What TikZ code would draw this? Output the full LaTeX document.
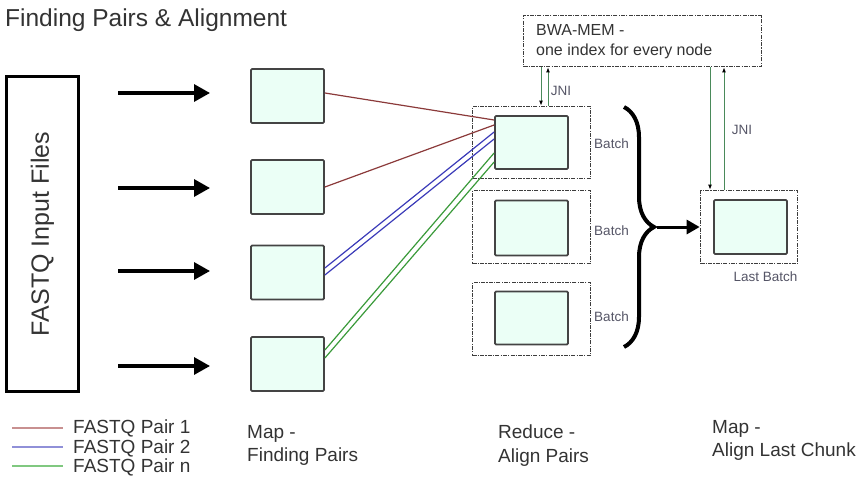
\documentclass[tikz,border=0pt]{standalone}
\usepackage{fontspec}
\setmainfont{Liberation Sans}
\usetikzlibrary{arrows.meta,decorations.pathreplacing,calc}
\definecolor{txt}{HTML}{333333}
\definecolor{boxc}{HTML}{444444}
\definecolor{mint}{HTML}{EBFFF6}
\definecolor{smalltxt}{HTML}{555566}
\definecolor{jnic}{HTML}{4A8A5A}
\definecolor{pone}{HTML}{8B3A3A}
\definecolor{ptwo}{HTML}{3A3AB8}
\definecolor{pn}{HTML}{3A9A3A}
\definecolor{lone}{HTML}{C89090}
\definecolor{ltwo}{HTML}{9090D8}
\definecolor{ln}{HTML}{80C880}
\begin{document}
\begin{tikzpicture}[x=1pt,y=-1pt,
  mapbox/.style={draw=boxc, fill=mint, line width=1.8pt, rounded corners=1.2pt, minimum width=73pt, minimum height=54pt, inner sep=0pt},
  outerbox/.style={draw=boxc!90!black, line width=1.7pt, dash pattern=on 4pt off 1.2pt on 1.2pt off 1.2pt, inner sep=0pt},
  bigarrow/.style={line width=3.2pt, -{Triangle[length=16pt,width=17pt]}},
  midarrow/.style={line width=3pt, -{Triangle[length=13pt,width=14pt]}},
  jni/.style={draw=jnic, line width=1pt, -{Latex[black,length=5pt,width=4pt]}},
  pair/.style={line width=1.2pt},
  small/.style={font=\fontsize{13.5}{16}\selectfont, text=smalltxt, inner sep=0pt},
  label/.style={font=\fontsize{19}{23.5}\selectfont, text=txt, align=left, inner sep=0pt, anchor=north west},
  legline/.style={line width=2pt}
]
\useasboundingbox (0,0) rectangle (868,482);

% title
\node[anchor=north west, inner sep=0pt, text=txt, font=\fontsize{24.5}{28}\selectfont] (title) at (5,9) {Finding Pairs \& Alignment};

% FASTQ input
\node[draw=black, line width=3pt, minimum width=72pt, minimum height=315pt, inner sep=0pt] (fastq) at (42.5,234)
  {\rotatebox{90}{\fontsize{25}{28}\selectfont\color{txt}FASTQ Input Files}};

% map boxes
\node[mapbox] (m1) at (287.5,96) {};
\node[mapbox] (m2) at (287.5,187) {};
\node[mapbox] (m3) at (287.5,272.5) {};
\node[mapbox] (m4) at (287.5,364) {};

% input arrows
\coordinate (a1s) at (118,93);  \coordinate (a1e) at (210,93);
\coordinate (a2s) at (118,188); \coordinate (a2e) at (210,188);
\coordinate (a3s) at (118,271); \coordinate (a3e) at (210,271);
\coordinate (a4s) at (118,366); \coordinate (a4e) at (210,366);
\draw[bigarrow] (a1s) -- (a1e);
\draw[bigarrow] (a2s) -- (a2e);
\draw[bigarrow] (a3s) -- (a3e);
\draw[bigarrow] (a4s) -- (a4e);

% reduce boxes
\node[outerbox, minimum width=118pt, minimum height=72pt] (r1o) at (531.5,142.5) {};
\node[mapbox, minimum height=53pt] (r1i) at (531.5,142.5) {};
\node[outerbox, minimum width=118pt, minimum height=73pt] (r2o) at (531.5,227) {};
\node[mapbox, minimum height=55pt] (r2i) at (531.5,228) {};
\node[outerbox, minimum width=118pt, minimum height=73pt] (r3o) at (531.5,319) {};
\node[mapbox, minimum height=53pt] (r3i) at (531.5,318) {};

\node[small] (b1) at (611.5,144) {Batch};
\node[small] (b2) at (611.5,231) {Batch};
\node[small] (b3) at (611.5,317) {Batch};

% pair connectors
\draw[pair, pone] ([yshift=3pt]m1.east) -- ([yshift=22.5pt]r1i.west);
\draw[pair, pone] (m2.east) -- ([yshift=17.5pt]r1i.west);
\draw[pair, ptwo] ([yshift=4.5pt]m3.east) -- ([yshift=10.5pt]r1i.west);
\draw[pair, ptwo] ([yshift=-2.5pt]m3.east) -- ([yshift=3.5pt]r1i.west);
\draw[pair, pn] ([yshift=14pt]m4.east) -- ([yshift=-10.5pt]r1i.west);
\draw[pair, pn] ([yshift=6pt]m4.east) -- ([yshift=-19.5pt]r1i.west);

% brace
\coordinate (brt) at (624,107);
\coordinate (brb) at (624,347);
\draw[line width=4pt, decorate, decoration={brace, amplitude=30pt}] (brt) -- (brb);
\coordinate (brtip) at (657,227);

% last batch
\node[outerbox, minimum width=97pt, minimum height=73pt] (lo) at (749,227) {};
\node[mapbox] (li) at (750.5,227) {};
\node[small] (lb) at (765.5,277) {Last Batch};
\draw[midarrow] (brtip) -- (lo.west);

% BWA-MEM
\node[outerbox, minimum width=238pt, minimum height=51pt] (bwa) at (642.5,41) {};
\node[anchor=west, inner sep=0pt, text=txt, font=\fontsize{16}{20}\selectfont, align=left] (bwat) at (536,42) {BWA-MEM -\\one index for every node};

% JNI arrows
\draw[jni] ([xshift=-101.5pt]bwa.south) -- ([xshift=-101.5pt]bwa.south |- r1o.north);
\draw[jni] ([xshift=-94.5pt]bwa.south |- r1o.north) -- ([xshift=-94.5pt]bwa.south);
\node[small] (j1) at (561,91) {JNI};
\draw[jni] ([xshift=67.5pt]bwa.south) -- ([xshift=67.5pt]bwa.south |- lo.north);
\draw[jni] ([xshift=81.5pt]bwa.south |- lo.north) -- ([xshift=81.5pt]bwa.south);
\node[small] (j2) at (742,130) {JNI};

% legend
\coordinate (l1s) at (12,428); \coordinate (l1e) at (63,428);
\coordinate (l2s) at (12,447); \coordinate (l2e) at (63,447);
\coordinate (l3s) at (12,466); \coordinate (l3e) at (63,466);
\draw[legline, lone] (l1s) -- (l1e);
\draw[legline, ltwo] (l2s) -- (l2e);
\draw[legline, ln] (l3s) -- (l3e);
\node[anchor=west, inner sep=0pt, text=txt, font=\fontsize{19}{22}\selectfont] (t1) at (73,428) {FASTQ Pair 1};
\node[anchor=west, inner sep=0pt, text=txt, font=\fontsize{19}{22}\selectfont] (t2) at (73,448) {FASTQ Pair 2};
\node[anchor=west, inner sep=0pt, text=txt, font=\fontsize{19}{22}\selectfont] (t3) at (73,467) {FASTQ Pair n};

% stage labels
\node[label] (s1) at (247,425) {Map -\\Finding Pairs};
\node[label] (s2) at (498,425) {Reduce -\\Align Pairs};
\node[label] (s3) at (712,420) {Map -\\Align Last Chunk};
\end{tikzpicture}
\end{document}
